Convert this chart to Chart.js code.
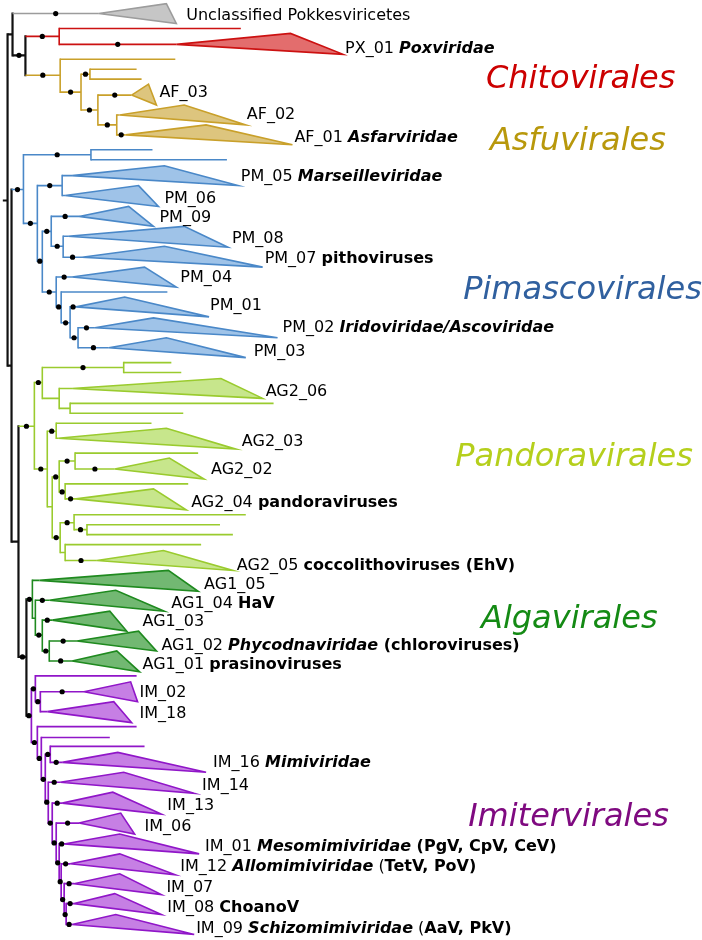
<!DOCTYPE html>
<html><head><meta charset="utf-8">
<script src="https://cdn.jsdelivr.net/npm/chart.js@4.4.1/dist/chart.umd.min.js"></script>
<style>html,body{margin:0;padding:0;background:#fff}canvas{display:block}</style>
</head><body>
<canvas id="c" width="702" height="940"></canvas>
<script>
// ---------- DATA ----------
// tree nodes: [id, parentId, depth (branch length position), row position, support dot (1/0)]
const backboneNodes = [
  ['root', null, 0, 199, 0],
  ['R1', 'root', 5, 199, 0],
  ['A', 'R1', 10, 32, 0],
  ['B', 'A', 23, 53, 1],
  ['N9', 'R1', 9, 365, 0],
  ['N16', 'N9', 16, 542, 0],
  ['N24', 'N16', 24, 658, 1]
];
const unclassifiedNodes = [
  ['U', 'A', 97, 11, 1]
];
const chitoviralesNodes = [
  ['C', 'B', 57, 34, 1],
  ['C1', 'C', 240, 26, 0],
  ['PX01', 'C', 175, 42, 1]
];
const asfuviralesNodes = [
  ['F', 'B', 58, 73, 1],
  ['F1', 'F', 174, 57, 0],
  ['F2', 'F', 79, 90, 1],
  ['F3', 'F2', 88, 72, 1],
  ['F3a', 'F3', 135, 67, 0],
  ['F3b', 'F3', 140, 77, 0],
  ['F4', 'F2', 96, 108, 1],
  ['AF03', 'F4', 130, 93, 1],
  ['F5', 'F4', 115, 123, 1],
  ['AF02', 'F5', 118, 113, 0],
  ['AF01', 'F5', 124, 133, 1]
];
const pimascoviralesNodes = [
  ['P', 'N9', 21, 188, 1],
  ['P1', 'P', 89, 153, 1],
  ['P1a', 'P1', 151, 148, 0],
  ['P1b', 'P1', 226, 158, 0],
  ['P2', 'P', 35, 222, 1],
  ['P3', 'P2', 60, 184, 1],
  ['PM05', 'P3', 70, 174, 0],
  ['PM06', 'P3', 63, 194, 0],
  ['P4', 'P2', 40, 260, 1],
  ['P5', 'P4', 49, 230, 1],
  ['PM09', 'P5', 77, 215, 1],
  ['P6', 'P5', 61, 245, 1],
  ['PM08', 'P6', 66, 235, 0],
  ['PM07', 'P6', 80, 256, 1],
  ['P7', 'P4', 54, 291, 1],
  ['PM04', 'P7', 70, 276, 1],
  ['P8', 'P7', 59, 306, 1],
  ['P8a', 'P8', 166, 291, 0],
  ['P9', 'P8', 68, 322, 1],
  ['PM01', 'P9', 74, 306, 1],
  ['P10', 'P9', 76, 337, 1],
  ['PM02', 'P10', 93, 327, 1],
  ['PM03', 'P10', 107, 347, 1]
];
const pandoraviralesNodes = [
  ['D', 'N16', 32, 426, 1],
  ['D1', 'D', 40, 382, 1],
  ['D1a', 'D1', 122, 367, 1],
  ['D1a1', 'D1a', 170, 362, 0],
  ['D1a2', 'D1a', 180, 372, 0],
  ['D1b', 'D1', 57, 398, 0],
  ['AG206', 'D1b', 70, 388, 0],
  ['D1c', 'D1b', 68, 408, 0],
  ['D1c1', 'D1c', 273, 403, 0],
  ['D1c2', 'D1c', 182, 413, 0],
  ['D2', 'D', 45, 469, 1],
  ['D3', 'D2', 54, 431, 1],
  ['D3a', 'D3', 150, 423, 0],
  ['AG203', 'D3', 56, 438, 0],
  ['D4', 'D2', 50, 507, 0],
  ['D5', 'D4', 57, 477, 1],
  ['D6', 'D5', 73, 461, 1],
  ['D6a', 'D6', 197, 453, 0],
  ['AG202', 'D6', 113, 469, 1],
  ['D7', 'D5', 63, 492, 1],
  ['D7a', 'D7', 187, 484, 0],
  ['AG204', 'D7', 74, 499, 1],
  ['D8', 'D4', 58, 538, 1],
  ['D9', 'D8', 72, 523, 1],
  ['D9a', 'D9', 245, 515, 0],
  ['D10', 'D9', 85, 530, 1],
  ['D10a', 'D10', 219, 525, 0],
  ['D10b', 'D10', 232, 535, 0],
  ['D11', 'D8', 63, 553, 0],
  ['D11a', 'D11', 200, 545, 0],
  ['AG205', 'D11', 95, 561, 1]
];
const algaviralesNodes = [
  ['G', 'N24', 30, 600, 1],
  ['AG105', 'G', 37, 581, 0],
  ['G2', 'G', 33, 619, 0],
  ['AG104', 'G2', 47, 601, 1],
  ['G3', 'G2', 40, 636, 1],
  ['AG103', 'G3', 50, 621, 1],
  ['G4', 'G3', 47, 652, 1],
  ['AG102', 'G4', 75, 642, 1],
  ['AG101', 'G4', 70, 662, 1]
];
const imiterviralesNodes = [
  ['I', 'N24', 29, 717, 1],
  ['I1', 'I', 33, 690, 1],
  ['I1a', 'I1', 135, 677, 0],
  ['I2', 'I1', 38, 703, 1],
  ['IM02', 'I2', 82, 693, 1],
  ['IM18', 'I2', 45, 713, 0],
  ['I3', 'I', 35, 744, 1],
  ['I3a', 'I3', 135, 728, 0],
  ['I4', 'I3', 39, 760, 1],
  ['I4a', 'I4', 108, 739, 0],
  ['L1', 'I4', 43, 781, 1],
  ['I6', 'L1', 48, 756, 1],
  ['I6a', 'I6', 143, 748, 0],
  ['IM16', 'I6', 60, 764, 1],
  ['L2', 'L1', 46, 804, 1],
  ['IM14', 'L2', 58, 784, 1],
  ['L3', 'L2', 50, 825, 1],
  ['IM13', 'L3', 60, 805, 1],
  ['L4', 'L3', 54, 845, 1],
  ['IM06', 'L4', 77, 825, 1],
  ['L5', 'L4', 57, 865, 1],
  ['IM01', 'L5', 62, 846, 1],
  ['L6', 'L5', 59, 884, 1],
  ['IM12', 'L6', 68, 866, 1],
  ['L7', 'L6', 62, 902, 1],
  ['IM07', 'L7', 72, 886, 1],
  ['L8', 'L7', 64, 917, 1],
  ['IM08', 'L8', 72, 906, 1],
  ['IM09', 'L8', 70, 927, 1]
];
// stems drawn in backbone colour
const backboneStems = ['I'];

// collapsed clades: [nodeId, shortest-leaf depth, top row, longest-leaf depth, bottom row]
const collapsedClades = [
  ['U', 165, 1, 175, 21],
  ['PX01', 290, 31, 343, 52],
  ['AF03', 147, 82, 155, 103],
  ['AF02', 183, 103, 245, 123],
  ['AF01', 205, 123, 292, 143],
  ['PM05', 163, 164, 237, 184],
  ['PM06', 137, 184, 157, 205],
  ['PM09', 127, 205, 152, 225],
  ['PM08', 183, 225, 227, 246],
  ['PM07', 163, 245, 262, 266],
  ['PM04', 143, 266, 175, 286],
  ['PM01', 123, 296, 208, 316],
  ['PM02', 152, 317, 277, 337],
  ['PM03', 165, 337, 245, 357],
  ['AG206', 220, 378, 262, 398],
  ['AG203', 165, 428, 235, 449],
  ['AG202', 168, 458, 203, 479],
  ['AG204', 152, 489, 185, 510],
  ['AG205', 162, 551, 232, 571],
  ['AG105', 167, 571, 197, 592],
  ['AG104', 114, 591, 163, 612],
  ['AG103', 108, 612, 125, 632],
  ['AG102', 137, 632, 155, 652],
  ['AG101', 115, 652, 138, 673],
  ['IM02', 129, 683, 136, 703],
  ['IM18', 112, 703, 130, 724],
  ['IM16', 116, 754, 205, 774],
  ['IM14', 122, 774, 193, 795],
  ['IM13', 111, 794, 160, 816],
  ['IM06', 119, 815, 133, 836],
  ['IM01', 118, 836, 198, 856],
  ['IM12', 118, 856, 174, 877],
  ['IM07', 118, 876, 160, 897],
  ['IM08', 113, 896, 160, 917],
  ['IM09', 114, 917, 193, 937]
];

// clade labels: [nodeId, [style, text] parts]  (n normal, b bold, bi bold italic)
const cladeLabels = [
  ['U', [['n', 'Unclassified Pokkesviricetes']]],
  ['PX01', [['n', 'PX_01 '], ['bi', 'Poxviridae']]],
  ['AF03', [['n', 'AF_03']]],
  ['AF02', [['n', 'AF_02']]],
  ['AF01', [['n', 'AF_01 '], ['bi', 'Asfarviridae']]],
  ['PM05', [['n', 'PM_05 '], ['bi', 'Marseilleviridae']]],
  ['PM06', [['n', 'PM_06']]],
  ['PM09', [['n', 'PM_09']]],
  ['PM08', [['n', 'PM_08']]],
  ['PM07', [['n', 'PM_07 '], ['b', 'pithoviruses']]],
  ['PM04', [['n', 'PM_04']]],
  ['PM01', [['n', 'PM_01']]],
  ['PM02', [['n', 'PM_02 '], ['bi', 'Iridoviridae/Ascoviridae']]],
  ['PM03', [['n', 'PM_03']]],
  ['AG206', [['n', 'AG2_06']]],
  ['AG203', [['n', 'AG2_03']]],
  ['AG202', [['n', 'AG2_02']]],
  ['AG204', [['n', 'AG2_04 '], ['b', 'pandoraviruses']]],
  ['AG205', [['n', 'AG2_05 '], ['b', 'coccolithoviruses (EhV)']]],
  ['AG105', [['n', 'AG1_05']]],
  ['AG104', [['n', 'AG1_04 '], ['b', 'HaV']]],
  ['AG103', [['n', 'AG1_03']]],
  ['AG102', [['n', 'AG1_02 '], ['bi', 'Phycodnaviridae'], ['b', ' (chloroviruses)']]],
  ['AG101', [['n', 'AG1_01 '], ['b', 'prasinoviruses']]],
  ['IM02', [['n', 'IM_02']]],
  ['IM18', [['n', 'IM_18']]],
  ['IM16', [['n', 'IM_16 '], ['bi', 'Mimiviridae']]],
  ['IM14', [['n', 'IM_14']]],
  ['IM13', [['n', 'IM_13']]],
  ['IM06', [['n', 'IM_06']]],
  ['IM01', [['n', 'IM_01 '], ['bi', 'Mesomimiviridae'], ['b', ' (PgV, CpV, CeV)']]],
  ['IM12', [['n', 'IM_12 '], ['bi', 'Allomimiviridae'], ['n', ' ('], ['b', 'TetV, PoV)']]],
  ['IM07', [['n', 'IM_07']]],
  ['IM08', [['n', 'IM_08 '], ['b', 'ChoanoV']]],
  ['IM09', [['n', 'IM_09 '], ['bi', 'Schizomimiviridae'], ['n', ' ('], ['b', 'AaV, PkV)']]]
];
const orderNames = ['Chitovirales', 'Asfuvirales', 'Pimascovirales', 'Pandoravirales', 'Algavirales', 'Imitervirales'];
const orderGroups = ['red', 'gold', 'blue', 'yg', 'green', 'purple'];

// ---------- LAYOUT / STYLE ----------
const labelAnchor = {
  U: [185, 13], PX01: [345, 46], AF03: [158, 91], AF02: [246, 113], AF01: [294, 136],
  PM05: [240, 175], PM06: [163, 197], PM09: [158, 216], PM08: [231, 238], PM07: [264, 258],
  PM04: [179, 277], PM01: [209, 305], PM02: [282, 327], PM03: [253, 351],
  AG206: [265, 391], AG203: [241, 442], AG202: [210, 470], AG204: [190, 503], AG205: [236, 566],
  AG105: [203, 585], AG104: [170, 605], AG103: [141, 623], AG102: [160, 647], AG101: [141, 666],
  IM02: [138, 694], IM18: [138, 715], IM16: [212, 764], IM14: [201, 788], IM13: [166, 808],
  IM06: [143, 829], IM01: [204, 849], IM12: [179, 869], IM07: [165, 890], IM08: [166, 910], IM09: [195, 931]
};
const orderAnchor = [[487, 86], [491, 148], [464, 298], [456, 466], [482, 629], [469, 828]];
const palette = {
  black: { line: '#111111', width: 2.2 },
  gray: { line: '#9c9c9c', fill: '#c6c6c6', width: 1.6 },
  red: { line: '#cc1111', fill: '#e36d6d', width: 1.6, text: '#cc0000' },
  gold: { line: '#c9a02a', fill: '#ddc57e', width: 1.6, text: '#b8980c' },
  blue: { line: '#4a88c8', fill: '#9fc3e8', width: 1.6, text: '#30609f' },
  yg: { line: '#9acb2e', fill: '#c7e68c', width: 1.6, text: '#b5cf1c' },
  green: { line: '#1f8a1f', fill: '#72b872', width: 1.6, text: '#148a14' },
  purple: { line: '#9016c8', fill: '#c67fe4', width: 1.7, text: '#7f0a80' }
};
const FONT = '"DejaVu Sans", "Liberation Sans", sans-serif';

// ---------- BUILD ----------
const nodeSets = [['black', backboneNodes], ['gray', unclassifiedNodes], ['red', chitoviralesNodes],
  ['gold', asfuviralesNodes], ['blue', pimascoviralesNodes], ['yg', pandoraviralesNodes],
  ['green', algaviralesNodes], ['purple', imiterviralesNodes]];
const nodes = {};
nodeSets.forEach(([g, arr]) => arr.forEach(([id, parent, x, y, dot]) => {
  nodes[id] = { id, parent, x, y, dot, group: g, children: [] };
}));
Object.values(nodes).forEach(n => { if (n.parent) nodes[n.parent].children.push(n); });

function seg(points, g, cap) {
  const st = palette[g];
  return { data: points, showLine: true, borderColor: st.line, borderWidth: st.width,
    pointRadius: 0, fill: false, borderCapStyle: cap || 'butt', tension: 0 };
}
const datasets = [];
const dotPts = [];
Object.values(nodes).forEach(n => {
  if (n.dot && n.parent) { const p = nodes[n.parent]; dotPts.push({ x: (p.x + n.x) / 2, y: n.y }); }
});
datasets.push({ data: dotPts, showLine: false, pointRadius: 2.6, pointBackgroundColor: '#000', pointBorderWidth: 0, pointHoverRadius: 2.6 });
collapsedClades.forEach(([id, xs, yt, xl, yb]) => {
  const n = nodes[id]; const st = palette[n.group];
  datasets.push({ data: [{ x: n.x, y: n.y }, { x: xs, y: yt }, { x: xl, y: yb }, { x: n.x, y: n.y }],
    showLine: true, borderColor: st.line, borderWidth: 1.6, pointRadius: 0, fill: false,
    borderJoinStyle: 'miter', polyFill: st.fill, tension: 0 });
});
Object.values(nodes).forEach(n => {
  if (!n.parent) return;
  const p = nodes[n.parent];
  const g = backboneStems.includes(n.id) ? 'black' : n.group;
  datasets.push(seg([{ x: p.x, y: n.y }, { x: n.x, y: n.y }], g));
});
Object.values(nodes).forEach(n => {
  if (n.children.length < 2) return;
  const ys = n.children.map(c => c.y);
  datasets.push(seg([{ x: n.x, y: Math.min(...ys) }, { x: n.x, y: Math.max(...ys) }], n.group, 'square'));
});

const polyFillPlugin = {
  id: 'polyFill',
  beforeDatasetDraw(chart, args) {
    const ds = chart.data.datasets[args.index];
    if (!ds.polyFill) return;
    const pts = args.meta.data; const c = chart.ctx;
    c.save(); c.beginPath();
    pts.forEach((p, i) => i ? c.lineTo(p.x, p.y) : c.moveTo(p.x, p.y));
    c.closePath(); c.fillStyle = ds.polyFill; c.fill(); c.restore();
  }
};
const fontFor = { n: '16px ' + FONT, b: 'bold 16px ' + FONT, bi: 'italic bold 16px ' + FONT };
const textPlugin = {
  id: 'treeText',
  afterDatasetsDraw(chart) {
    const c = chart.ctx, sx = chart.scales.x, sy = chart.scales.y;
    c.save();
    c.fillStyle = '#000'; c.textBaseline = 'middle'; c.textAlign = 'left';
    cladeLabels.forEach(([id, parts]) => {
      const a = labelAnchor[id];
      let px = sx.getPixelForValue(a[0]); const py = sy.getPixelForValue(a[1]);
      parts.forEach(([s, t]) => { c.font = fontFor[s]; c.fillText(t, px, py); px += c.measureText(t).width; });
    });
    c.textBaseline = 'alphabetic';
    c.font = 'italic 32px ' + FONT;
    orderNames.forEach((name, i) => {
      c.fillStyle = palette[orderGroups[i]].text;
      c.fillText(name, sx.getPixelForValue(orderAnchor[i][0]), sy.getPixelForValue(orderAnchor[i][1]));
    });
    c.restore();
  }
};

new Chart(document.getElementById('c'), {
  type: 'scatter',
  data: { datasets },
  options: {
    responsive: false, animation: false, devicePixelRatio: 1, events: [],
    layout: { padding: 0 },
    plugins: { legend: { display: false }, tooltip: { enabled: false } },
    scales: {
      x: { type: 'linear', min: 0, max: 702, display: false },
      y: { type: 'linear', min: 0, max: 940, reverse: true, display: false }
    }
  },
  plugins: [polyFillPlugin, textPlugin]
});
</script></body></html>
